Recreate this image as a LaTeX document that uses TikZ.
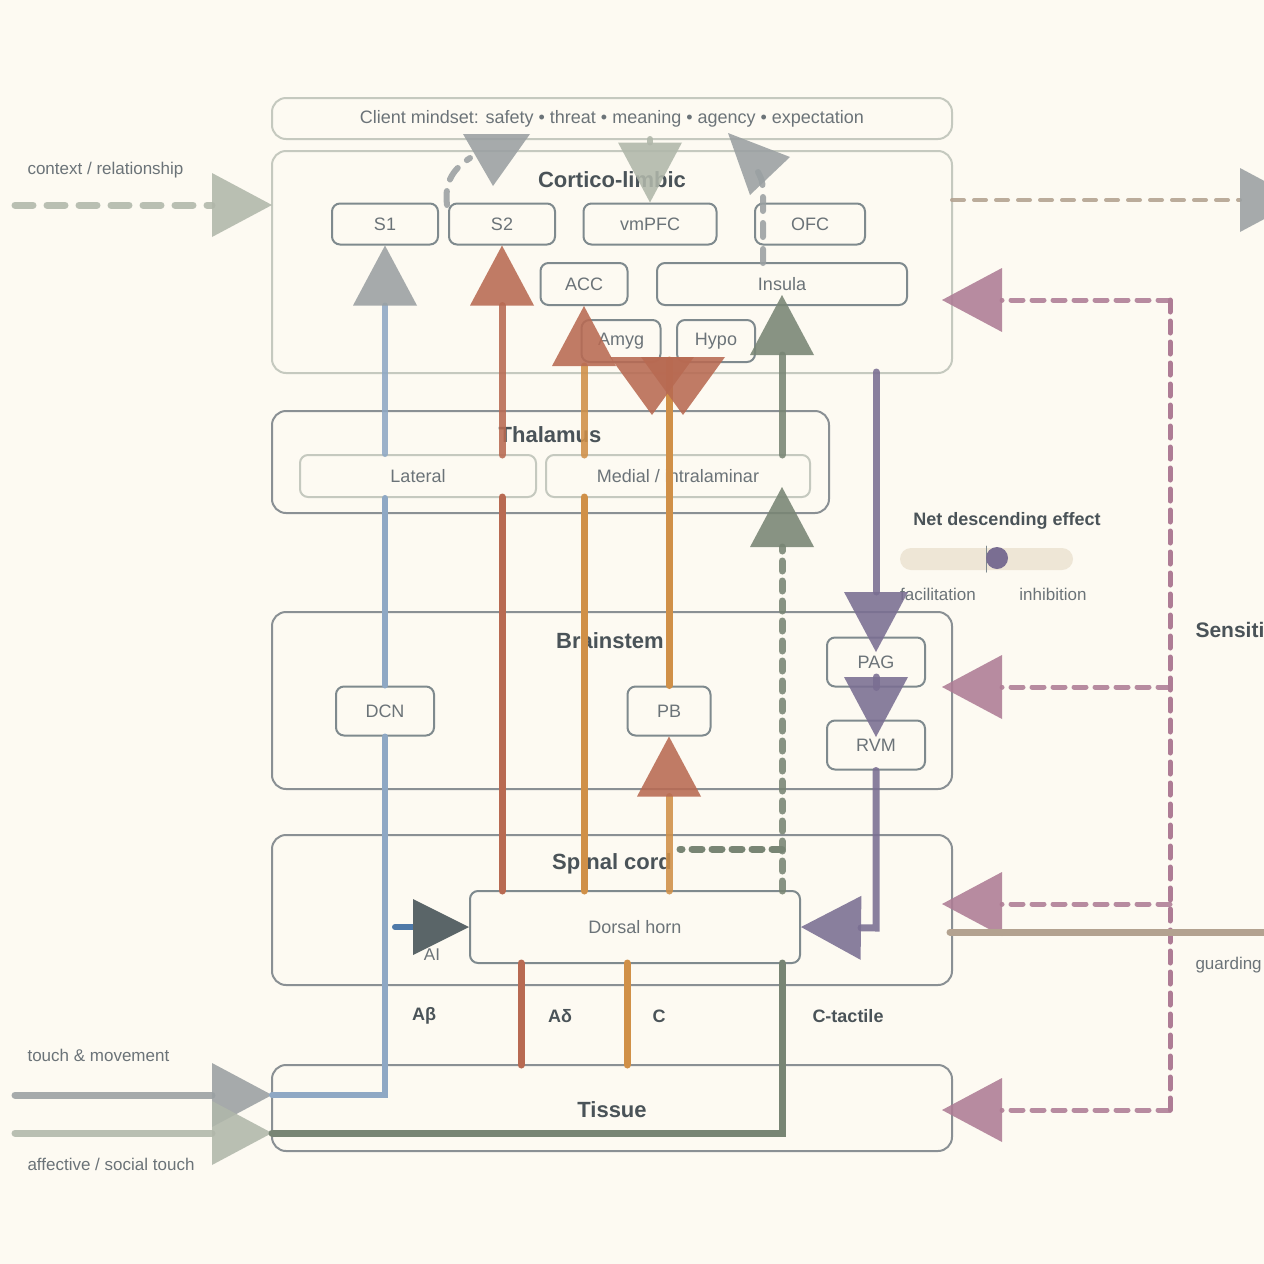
\documentclass[tikz,border=0pt]{standalone}
\usepackage{fontspec}
\setmainfont{Liberation Sans}
\usetikzlibrary{arrows.meta}
\definecolor{bg}{HTML}{FDFAF2}
\definecolor{lgb}{HTML}{C5C9BF}
\definecolor{mgb}{HTML}{8A9094}
\definecolor{ndb}{HTML}{7F8A8E}
\definecolor{txt}{HTML}{6B7378}
\definecolor{ttl}{HTML}{4A5358}
\definecolor{sage}{HTML}{B0B7AA}
\definecolor{grayh}{HTML}{9AA0A2}
\definecolor{blu}{HTML}{8FA8C4}
\definecolor{red}{HTML}{B86A52}
\definecolor{org}{HTML}{D09048}
\definecolor{grn}{HTML}{788574}
\definecolor{pur}{HTML}{7A6E92}
\definecolor{pink}{HTML}{AE7C95}
\definecolor{brn}{HTML}{B3A290}
\definecolor{dk}{HTML}{5A6568}
\definecolor{slider}{HTML}{EEE6D6}
\definecolor{aib}{HTML}{4F79A8}
\begin{document}
\begin{tikzpicture}[x=1pt,y=-1pt,
 box/.style={draw=#1,line width=2pt,rounded corners=14pt},
 nd/.style={draw=ndb,line width=2pt,rounded corners=8pt,fill=bg,fill opacity=0.6,text opacity=1,font=\fontsize{18}{18}\selectfont,text=txt},
 ttl/.style={font=\bfseries\fontsize{22}{22}\selectfont,text=ttl},
 lab/.style={font=\fontsize{17}{17}\selectfont,text=txt},
 bl/.style={font=\bfseries\fontsize{18}{18}\selectfont,text=ttl},
 big/.style={-{Triangle[length=60pt,width=64pt,line width=0pt]}},
 bigc/.style={-{Triangle[length=60pt,width=64pt,line width=0pt,color=#1]}},
 op/.style={opacity=0.88},
 line cap=round]
\useasboundingbox (0,0) rectangle (1264,1264);
\clip (0,0) rectangle (1264,1264);
\fill[bg] (0,0) rectangle (1264,1264);
% boxes
\draw[box=lgb] (272,98) rectangle (952,139);
\node[font=\fontsize{18}{18}\selectfont,text=txt] (mind) at (612,119) {Client mindset: safety • threat • meaning • agency • expectation};
\draw[box=lgb] (272,151) rectangle (952,373);
\node[ttl] (ctl) at (612,180) {Cortico-limbic};
\draw[box=mgb] (272,411) rectangle (829,513);
\node[ttl] (thl) at (550,435) {Thalamus};
\draw[box=mgb] (272,612) rectangle (952,789);
\node[ttl] (bst) at (610,641) {Brainstem};
\draw[box=mgb] (272,835) rectangle (952,985);
\node[ttl] (spc) at (612,864) {Spinal cord};
\draw[box=mgb] (272,1065) rectangle (952,1151);
\node[ttl] (tis) at (612,1110) {Tissue};
% nodes
\node[nd,minimum width=106pt,minimum height=41pt] (S1) at (385,224) {S1};
\node[nd,minimum width=106pt,minimum height=41pt] (S2) at (502,224) {S2};
\node[nd,minimum width=133pt,minimum height=41pt] (vm) at (650,224) {vmPFC};
\node[nd,minimum width=110pt,minimum height=41pt] (OFC) at (810,224) {OFC};
\node[nd,minimum width=87pt,minimum height=42pt] (ACC) at (584,284) {ACC};
\node[nd,minimum width=250pt,minimum height=42pt] (Ins) at (782,284) {Insula};
\node[nd,minimum width=79pt,minimum height=42pt] (Amy) at (621,341) {Amyg};
\node[nd,minimum width=78pt,minimum height=42pt] (Hyp) at (716,341) {Hypo};
\node[nd,draw=lgb,minimum width=236pt,minimum height=42pt] (Lat) at (418,476) {Lateral};
\node[nd,draw=lgb,minimum width=264pt,minimum height=42pt] (Med) at (678,476) {Medial / intralaminar};
\node[nd,minimum width=98pt,minimum height=49pt] (DCN) at (385,711) {DCN};
\node[nd,minimum width=83pt,minimum height=49pt] (PB) at (669,711) {PB};
\node[nd,minimum width=98pt,minimum height=49pt] (PAG) at (876,662) {PAG};
\node[nd,minimum width=98pt,minimum height=49pt] (RVM) at (876,745) {RVM};
\node[nd,minimum width=330pt,minimum height=72pt] (DH) at (635,927) {Dorsal horn};
% labels
\node[lab,anchor=west] (ctx) at (24,170) {context / relationship};
\node[lab,anchor=west] (tm) at (24,1055) {touch \& movement};
\node[lab,anchor=west] (aff) at (24,1164) {affective / social touch};
\node[lab,anchor=west] (gd) at (1192,965) {guarding};
\node[ttl,anchor=west,font=\bfseries\fontsize{21}{21}\selectfont] (sens) at (1192,630) {Sensitization};
\node[bl] (ab) at (424,1016) {Aβ};
\node[bl] (ad) at (560,1016) {Aδ};
\node[bl] (cc) at (659,1016) {C};
\node[bl] (ct) at (848,1016) {C-tactile};
\node[lab] (AI) at (432,955) {AI};
\node[bl] (nde) at (1007,521) {Net descending effect};
\fill[rounded corners=11pt,slider] (900,548) rectangle (1073,570);
\draw[ndb,line width=1pt] (986,546) -- (986,572);
\fill[pur] (997,558) circle (11pt);
\node[lab] (fac) at (938,594) {facilitation};
\node[lab] (inh) at (1053,594) {inhibition};
% coordinates
\coordinate (c1) at (15,205); \coordinate (c2) at (272,205);
\coordinate (r1) at (952,200); \coordinate (r2) at (1300,200);
% context
\draw[sage,line width=7pt,dash pattern=on 18pt off 14pt,big,op] (c1) -- (c2);
\draw[brn,line width=4pt,dash pattern=on 12pt off 10pt,bigc=grayh,op] (r1) -- (r2);
% mindset->vmPFC
\draw[sage,line width=6pt,big,op] (650,139) -- (vm.north);
% S2 dashed curve and head
\draw[grayh,line width=6pt,dash pattern=on 14pt off 12pt,op] (447,205) .. controls (444,180) and (455,168) .. (470,158);
\fill[grayh,opacity=0.88] (463,134) -- (530,134) -- (493,186) -- cycle;
% Insula->OFC dashed and head
\draw[grayh,line width=6pt,dash pattern=on 14pt off 12pt,op] (763,263) -- (763,190) .. controls (762,180) .. (758,172);
\fill[grayh,opacity=0.88] (728,133) -- (790,157) -- (750,195) -- cycle;
% Abeta pathway
\coordinate (t1) at (15,1095); \coordinate (t2) at (272,1095);
\draw[grayh,line width=7pt,big,op] (t1) -- (t2);
\draw[blu,line width=6pt] (t2) -- (385,1095) -- (DCN.south);
\draw[blu,line width=6pt] (DCN.north) -- (Lat.south-|DCN);
\draw[blu,line width=6pt,bigc=grayh,op] (Lat.north-|S1) -- (S1.south);
% Adelta
\draw[red,line width=7pt] (521,1065) -- (521,963);
\draw[red,line width=7pt] (502,891) -- (502,497);
\draw[red,line width=7pt,big,op] (502,455) -- (S2.south);
% C
\draw[org,line width=7pt] (627,1065) -- (627,963);
\draw[org,line width=7pt] (584,891) -- (584,497);
\draw[org,line width=7pt,bigc=red,op] (584,455) -- (ACC.south);
\draw[org,line width=7pt,bigc=red,op] (669,891) -- (PB.south);
\draw[org,line width=7pt] (PB.north) -- (669,360);
\fill[red,opacity=0.88] (610,357) -- (694,357) -- (652,415) -- cycle;
\fill[red,opacity=0.88] (641,357) -- (725,357) -- (683,415) -- cycle;
% C-tactile
\coordinate (a1) at (15,1133); \coordinate (a2) at (272,1133);
\draw[sage,line width=7pt,big,op] (a1) -- (a2);
\draw[grn,line width=7pt] (a2) -- (782,1133) -- (782,963);
\draw[grn,line width=7pt,dash pattern=on 10pt off 10pt,big,op] (782,891) -- (782,487);
\draw[grn,line width=7pt,dash pattern=on 10pt off 10pt] (782,849) -- (680,849);
\draw[grn,line width=7pt,big,op] (782,455) -- (782,295);
% descending
\draw[pur,line width=7pt,big,op] (876,372) -- (876,652);
\draw[pur,line width=7pt,big,op] (PAG.south) -- (876,737);
\draw[pur,line width=7pt,big,op] (RVM.south) -- (876,928) -- (DH.east);
% AI
\draw[aib,line width=6pt,-{Triangle[length=56pt,width=56pt,line width=0pt,color=dk]}] (395,927) -- (DH.west);
% sensitization
\draw[pink,line width=5pt,dash pattern=on 12pt off 9pt] (1170,300) -- (1170,1110);
\foreach \y in {300,687,904,1110}{\draw[pink,line width=5pt,dash pattern=on 12pt off 9pt,big,op] (1170,\y) -- (942,\y);}
% guarding
\draw[brn,line width=7pt] (950,932) -- (1270,932);
\end{tikzpicture}
\end{document}
